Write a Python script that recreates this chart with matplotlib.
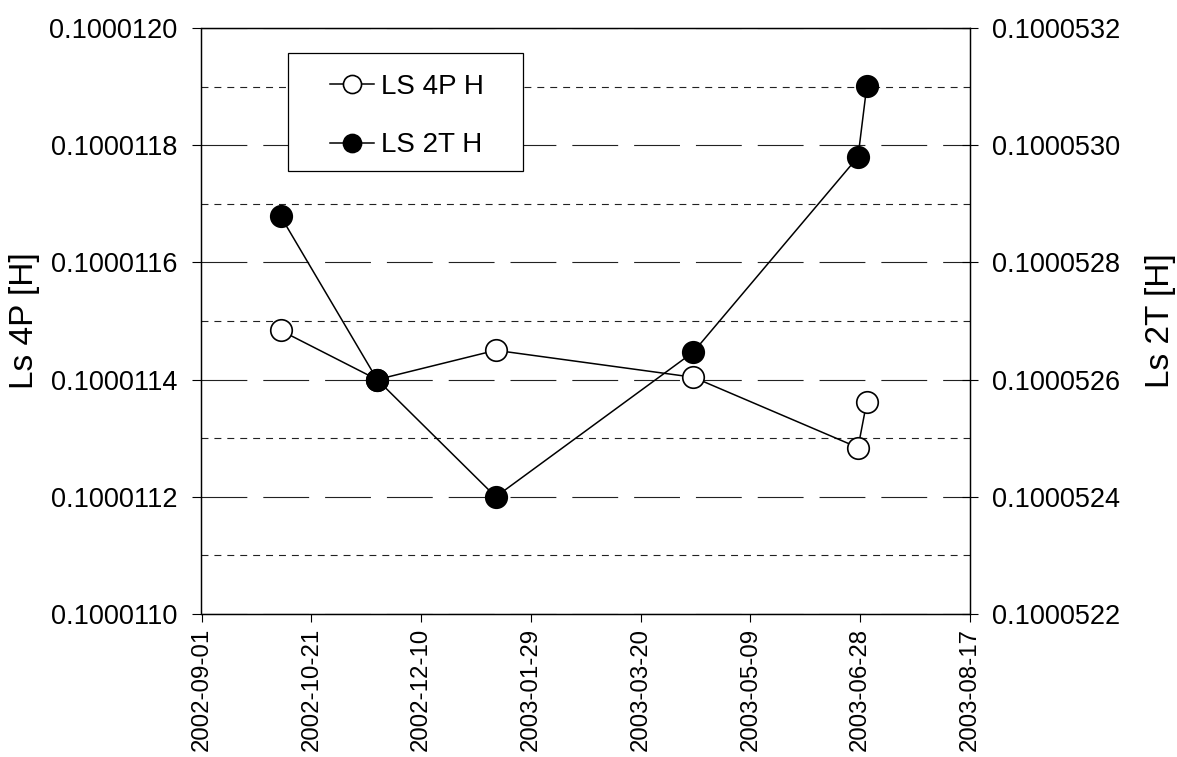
import pandas as pd
import matplotlib
matplotlib.use("Agg")
import matplotlib.pyplot as plt
import matplotlib.dates as mdates
from matplotlib.ticker import MultipleLocator, FormatStrFormatter
from matplotlib.patches import Rectangle

plt.rcParams["font.family"] = ["Liberation Sans", "DejaVu Sans"]
plt.rcParams["lines.scale_dashes"] = False

dates = ["2002-10-07", "2002-11-20", "2003-01-13", "2003-04-13", "2003-06-27", "2003-07-01"]
ls_4p = [0.100011484, 0.100011400, 0.100011450, 0.100011404, 0.100011284, 0.100011362]
ls_2t = [0.100052879, 0.100052600, 0.100052400, 0.100052647, 0.100052980, 0.100053101]

x_start = "2002-09-01"
x_end = "2003-08-17"
left_lim = (0.1000110, 0.1000120)
right_lim = (0.1000522, 0.1000532)

x = pd.to_datetime(dates)

fig = plt.figure(figsize=(11.77, 7.57), dpi=100)
ax = fig.add_axes([201.5 / 1177, 1 - 614 / 757, (970 - 201.5) / 1177, (614 - 28) / 757])
ax2 = ax.twinx()

# grid: long dashes on major ticks, short dashes halfway between
ax.yaxis.set_major_locator(MultipleLocator(2e-7))
ax.yaxis.set_minor_locator(MultipleLocator(1e-7))
ax.yaxis.grid(True, which="major", color="#222222", lw=0.8, linestyle=(0, (33, 11.5)))
ax.yaxis.grid(True, which="minor", color="#222222", lw=0.8, linestyle=(0, (5, 4.3)))
ax.set_axisbelow(True)

mk = 15.5
l1, = ax.plot(x, ls_4p, color="black", lw=1.1, marker="o", ms=mk,
              mfc="white", mec="black", mew=1.2, label="LS 4P H")
l2, = ax2.plot(x, ls_2t, color="black", lw=1.1, marker="o", ms=mk,
               mfc="black", mec="black", mew=1.2, label="LS 2T H")

ax.set_xlim(pd.Timestamp(x_start), pd.Timestamp(x_end))
ax.set_ylim(*left_lim)
ax2.set_ylim(*right_lim)
ax2.yaxis.set_major_locator(MultipleLocator(2e-7))

ax.set_xticks(pd.date_range(x_start, x_end, freq="50D"))
ax.xaxis.set_major_formatter(mdates.DateFormatter("%Y-%m-%d"))
ax.yaxis.set_major_formatter(FormatStrFormatter("%.7f"))
ax2.yaxis.set_major_formatter(FormatStrFormatter("%.7f"))

ax.tick_params(axis="y", which="major", direction="out", length=6.5, width=0.8,
               pad=11, labelsize=19.5)
ax.tick_params(axis="y", which="minor", length=0)
ax.tick_params(axis="x", direction="out", length=6, width=0.8, pad=4,
               labelsize=17.3, labelrotation=90)
ax2.tick_params(axis="y", direction="inout", length=12, width=0.8, pad=10,
                labelsize=19.5)

for a in (ax, ax2):
    for s in a.spines.values():
        s.set_linewidth(0.9)
        s.set_color("black")

fig.text(25 / 1177, 1 - 321 / 757, "Ls 4P [H]", rotation=90, ha="center",
         va="center", fontsize=24)
fig.text(1160 / 1177, 1 - 321 / 757, "Ls 2T [H]", rotation=90, ha="center",
         va="center", fontsize=24)

# legend box drawn by hand so the padding matches the original
fig.patches.append(Rectangle((288 / 1177, 1 - 171 / 757), (523 - 288) / 1177,
                             (171 - 53) / 757, transform=fig.transFigure,
                             facecolor="white", edgecolor="black", lw=0.9,
                             zorder=5))
leg = fig.legend([l1, l2], ["LS 4P H", "LS 2T H"], loc="upper left",
                 bbox_to_anchor=(316 / 1177, 1 - 60 / 757), frameon=False,
                 borderpad=0, fontsize=20, handlelength=1.6, handletextpad=0.25,
                 labelspacing=1.17, markerscale=0.84)
leg.set_zorder(6)

fig.savefig("out.png", dpi=100)
